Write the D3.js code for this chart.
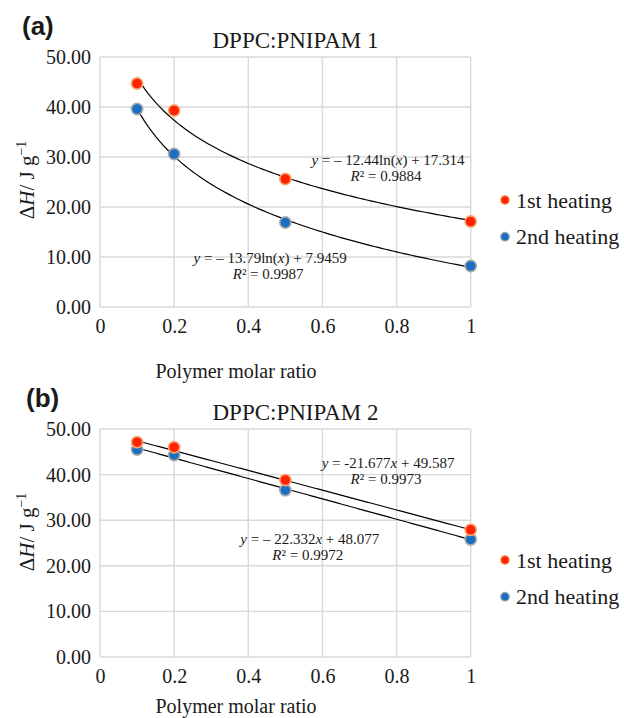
<!DOCTYPE html>
<html>
<head>
<meta charset="utf-8">
<script src="https://cdn.jsdelivr.net/npm/d3@7"></script>
<style>
  body { margin: 0; background: #fff; }
  text { font-family: "Liberation Serif", "Times New Roman", serif; fill: #1a1a1a; }
</style>
</head>
<body>
<div id="chart"></div>
<script>
// polymer molar ratios (x) shared by both panels
var ratios = [0.1, 0.2, 0.5, 1];

// panel (a) DPPC:PNIPAM 1, enthalpy in J/g
var a_first = [44.7, 39.3, 25.6, 17.1];
var a_second = [39.6, 30.6, 16.9, 8.2];
// panel (b) DPPC:PNIPAM 2
var b_first = [47.1, 46.0, 38.8, 27.9];
var b_second = [45.5, 44.3, 36.6, 25.8];

// fitted trendline coefficients as printed on the chart
var a_fit_slope = [-12.44, -13.79], a_fit_icept = [17.314, 7.9459], a_fit_r2 = ['0.9884', '0.9987'];
var b_fit_slope = [-21.677, -22.332], b_fit_icept = [49.587, 48.077], b_fit_r2 = ['0.9973', '0.9972'];

var series_names = ['1st heating', '2nd heating'];
var y_ticks = [0, 10, 20, 30, 40, 50];
var x_ticks = [0, 0.2, 0.4, 0.6, 0.8, 1];

var fill = ['#ff2200', '#1b6fc2'],
    edge = ['#f7a46f', '#a9a9a9'],
    grid = '#d9d9d9';

var W = 624, H = 718;
var svg = d3.select('#chart').append('svg').attr('width', W).attr('height', H);

function drawPanel(p) {
  var x = d3.scaleLinear().domain([0, 1]).range([100, 470.7]);
  var y = d3.scaleLinear().domain([0, 50]).range([p.bottom, p.top]);
  var g = svg.append('g');

  // panel letter
  g.append('text').attr('x', p.letterX).attr('y', p.letterY)
    .style('font-family', '"Liberation Sans", Arial, sans-serif')
    .style('font-weight', 'bold').style('font-size', '26px').text(p.letter);

  // title
  g.append('text').attr('x', 295.5).attr('y', p.top - 9).attr('text-anchor', 'middle')
    .style('font-size', '23px').text(p.title);

  // grid
  g.selectAll('.hg').data(y_ticks).enter().append('line')
    .attr('x1', x(0)).attr('x2', x(1)).attr('y1', function(d) { return y(d); }).attr('y2', function(d) { return y(d); })
    .attr('stroke', grid).attr('stroke-width', 1.4);
  g.selectAll('.vg').data(x_ticks).enter().append('line')
    .attr('y1', y(0)).attr('y2', y(50)).attr('x1', function(d) { return x(d); }).attr('x2', function(d) { return x(d); })
    .attr('stroke', grid).attr('stroke-width', 1.4);

  // axes (labels only, Excel style)
  var ya = g.append('g').attr('transform', 'translate(' + x(0) + ',0)')
    .call(d3.axisLeft(y).tickValues(y_ticks).tickFormat(d3.format('.2f')).tickSize(0).tickPadding(9));
  var xa = g.append('g').attr('transform', 'translate(0,' + y(0) + ')')
    .call(d3.axisBottom(x).tickValues(x_ticks).tickFormat(d3.format('')).tickSize(0).tickPadding(12));
  [ya, xa].forEach(function(a) {
    a.select('.domain').remove();
    a.selectAll('text').style('font-family', '"Liberation Serif", serif').style('font-size', '20px').attr('fill', '#1a1a1a');
  });

  // axis titles
  g.append('text').attr('x', 236).attr('y', p.xTitleY).attr('text-anchor', 'middle')
    .style('font-size', '20px').text('Polymer molar ratio');
  var yt = g.append('text').attr('transform', 'translate(34,' + p.yTitleY + ') rotate(-90)')
    .attr('text-anchor', 'middle').style('font-size', '21px');
  yt.append('tspan').text('Δ');
  yt.append('tspan').style('font-style', 'italic').text('H');
  yt.append('tspan').text('/ J g');
  yt.append('tspan').attr('dy', -8).style('font-size', '14px').text('−1');

  // trendlines
  var xs = d3.range(0.1, 1.0001, 0.01);
  var line = d3.line().x(function(d) { return x(d[0]); }).y(function(d) { return y(d[1]); });
  [0, 1].forEach(function(k) {
    var pts = xs.map(function(v) {
      var f = p.log ? p.slope[k] * Math.log(v) + p.icept[k] : p.slope[k] * v + p.icept[k];
      return [v, f];
    });
    g.append('path').attr('d', line(pts)).attr('fill', 'none').attr('stroke', '#000').attr('stroke-width', 1.2);
  });

  // markers: draw 2nd series first so 1st sits on top like the original
  [1, 0].forEach(function(k) {
    g.selectAll('.m' + k).data(p.series[k]).enter().append('circle')
      .attr('cx', function(d, i) { return x(ratios[i]); })
      .attr('cy', function(d) { return y(d); })
      .attr('r', 5.6)
      .attr('fill', fill[k]).attr('stroke', edge[k]).attr('stroke-width', 1.6);
  });

  // equations
  [0, 1].forEach(function(k) {
    var ex = x(p.eqPos[k][0]), ey = y(p.eqPos[k][1]);
    var t = g.append('text').attr('x', ex).attr('y', ey).attr('text-anchor', 'middle').style('font-size', '15px');
    t.append('tspan').style('font-style', 'italic').text('y');
    var s = p.slope[k], sign = p.minusStyle[k] ? '– ' + Math.abs(s) : String(s);
    if (p.log) {
      t.append('tspan').text(' = ' + sign + 'ln(');
      t.append('tspan').style('font-style', 'italic').text('x');
      t.append('tspan').text(') + ' + p.icept[k]);
    } else {
      t.append('tspan').text(' = ' + sign);
      t.append('tspan').style('font-style', 'italic').text('x');
      t.append('tspan').text(' + ' + p.icept[k]);
    }
    var r = g.append('text').attr('x', ex - 2).attr('y', ey + 16).attr('text-anchor', 'middle').style('font-size', '15px');
    r.append('tspan').style('font-style', 'italic').text('R');
    r.append('tspan').text('² = ' + p.r2[k]);
  });

  // legend
  series_names.forEach(function(n, k) {
    var ly = p.legendY + k * 36.7;
    g.append('circle').attr('cx', 505).attr('cy', ly).attr('r', 4.3)
      .attr('fill', fill[k]).attr('stroke', edge[k]).attr('stroke-width', 1.2);
    g.append('text').attr('x', 516).attr('y', ly + 7.5).style('font-size', '22px').text(n);
  });
}

drawPanel({
  letter: '(a)', letterX: 22, letterY: 35, title: 'DPPC:PNIPAM 1',
  top: 57, bottom: 307, xTitleY: 378, yTitleY: 180, legendY: 200,
  series: [a_first, a_second], log: true,
  slope: a_fit_slope, icept: a_fit_icept, r2: a_fit_r2, minusStyle: [true, true],
  eqPos: [[0.777, 28.4], [0.459, 8.8]]
});

drawPanel({
  letter: '(b)', letterX: 26, letterY: 407, title: 'DPPC:PNIPAM 2',
  top: 429, bottom: 657, xTitleY: 713, yTitleY: 532, legendY: 560,
  series: [b_first, b_second], log: false,
  slope: b_fit_slope, icept: b_fit_icept, r2: b_fit_r2, minusStyle: [false, true],
  eqPos: [[0.777, 41.45], [0.566, 24.8]]
});
</script>
</body>
</html>
